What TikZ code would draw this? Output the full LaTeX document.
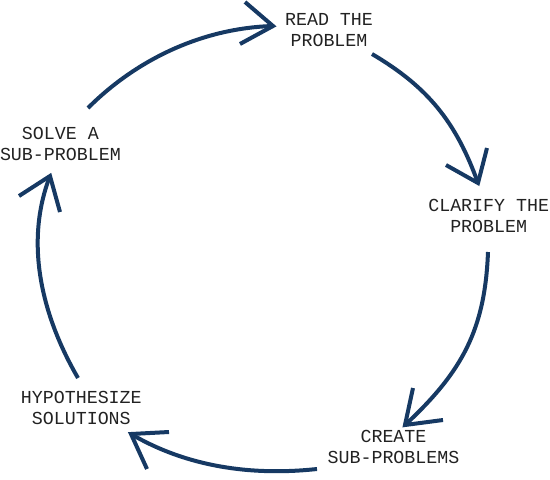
\documentclass[tikz,border=0pt]{standalone}
\usepackage{fontspec}
\setmonofont{Liberation Mono}
\definecolor{navy}{HTML}{163963}
\definecolor{textgray}{HTML}{222222}
\begin{document}
\begin{tikzpicture}[x=1pt,y=-1pt,
  lbl/.style={font=\ttfamily\fontsize{18.3}{20.7}\selectfont, text=textgray, align=center, inner sep=0pt},
  cyc/.style={draw=navy, line width=4pt, line cap=butt},
  barb/.style={draw=navy, line width=4pt, line join=miter, line cap=butt}]
\useasboundingbox (0,0) rectangle (550,480);
% labels
\node[lbl] (read)   at (329,30)    {READ THE\\PROBLEM};
\node[lbl] (clar)   at (488.7,216.3) {CLARIFY THE\\PROBLEM};
\node[lbl] (create) at (393.5,447.3) {CREATE\\SUB-PROBLEMS};
\node[lbl] (hypo)   at (81.3,408)  {HYPOTHESIZE\\SOLUTIONS};
\node[lbl] (solve)  at (60.4,144)  {SOLVE A\\SUB-PROBLEM};
% arrow end points
\coordinate (s1) at (88,108);  \coordinate (t1) at (273,26);
\coordinate (s2) at (372,54);  \coordinate (t2) at (478,183);
\coordinate (s3) at (488,252); \coordinate (t3) at (405,425);
\coordinate (s4) at (317,469); \coordinate (t4) at (131,434);
\coordinate (s5) at (78,378);  \coordinate (t5) at (50,176);
% barb ends
\coordinate (b1a) at (245,2);   \coordinate (b1b) at (240,44);
\coordinate (b2a) at (487,148); \coordinate (b2b) at (446,165);
\coordinate (b3a) at (413,388); \coordinate (b3b) at (443,420);
\coordinate (b4a) at (169,432); \coordinate (b4b) at (147,469);
\coordinate (b5a) at (60,212);  \coordinate (b5b) at (19,196);
% arcs
\draw[cyc] (s1) .. controls (137,59) and (203,28) .. (t1);
\draw[cyc] (s2) .. controls (428,87) and (456,122) .. (t2);
\draw[cyc] (s3) .. controls (485,330) and (462,372) .. (t3);
\draw[cyc] (s4) .. controls (252,476) and (187,467) .. (t4);
\draw[cyc] (s5) .. controls (42,316) and (24,243) .. (t5);
% heads
\draw[barb] (b1a) -- (t1) -- (b1b);
\draw[barb] (b2a) -- (t2) -- (b2b);
\draw[barb] (b3a) -- (t3) -- (b3b);
\draw[barb] (b4a) -- (t4) -- (b4b);
\draw[barb] (b5a) -- (t5) -- (b5b);
\end{tikzpicture}
\end{document}
